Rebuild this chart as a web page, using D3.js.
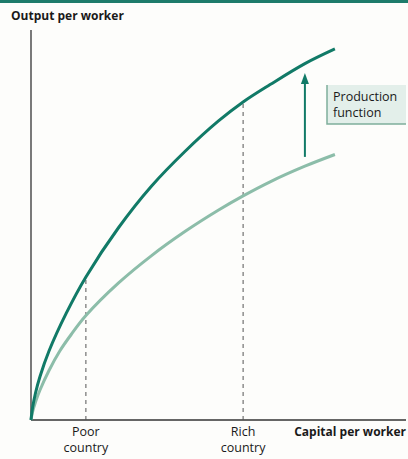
<!DOCTYPE html>
<html>
<head>
<meta charset="utf-8">
<script src="https://cdn.jsdelivr.net/npm/d3@7"></script>
<style>
  html, body { margin: 0; padding: 0; background: #fdfdfb; }
  svg { display: block; }
  text { font-family: "Open Sans", "Noto Sans", sans-serif; fill: #1a1a1a; }
</style>
</head>
<body>
<script>
// Capital per worker (x) and output per worker (y)
const highCapital = [0, 0.5, 1.5, 3, 6, 11.8, 18.3, 29.1, 40.2, 51.3, 62.4, 70.7, 79.7, 91.3, 101.3];
const highOutput  = [0, 4, 9, 14.5, 23, 35.7, 47.7, 64, 78, 89.5, 99.6, 106, 111.8, 118.8, 123.7];
const lowCapital  = [0, 0.5, 1.5, 3, 6, 9.6, 13.4, 18.3, 29.1, 40.2, 51.3, 62.4, 70.7, 79.7, 91.3, 101.3];
const lowOutput   = [0, 2.6, 6, 10, 16.5, 23, 28.5, 34.8, 45.6, 54.8, 62.8, 69.9, 74.7, 79.4, 84.6, 88.5];
const countryLabels = [["Poor", "country"], ["Rich", "country"]];
const countryCapital = [18.3, 70.7];
const countryOutput = [47.7, 106];
const shiftCapital = 91.3;
const shiftFrom = 87.7;
const shiftTo = 115.7;
const xTitle = "Capital per worker";
const yTitle = "Output per worker";
const boxLines = ["Production", "function"];

const W = 408, H = 459;
const dark = "#117a67", light = "#8cbda9";

const svg = d3.select("body").append("svg").attr("width", W).attr("height", H);
svg.append("rect").attr("width", W).attr("height", H).attr("fill", "#fdfdfb");
svg.append("rect").attr("x", 0).attr("y", 0).attr("width", W).attr("height", 3).attr("fill", "#1d7b6b");

const x = d3.scaleLinear().domain([0, 125]).range([31, 406]);
const y = d3.scaleLinear().domain([0, 130]).range([420, 30]);

// axes
svg.append("line").attr("x1", x(0)).attr("x2", x(0)).attr("y1", y(130)).attr("y2", y(0))
  .attr("stroke", "#333").attr("stroke-width", 1.3);
svg.append("line").attr("x1", x(0)).attr("x2", x(125)).attr("y1", y(0)).attr("y2", y(0))
  .attr("stroke", "#333").attr("stroke-width", 1.3);

// dashed guides
countryCapital.forEach((c, i) => {
  svg.append("line").attr("x1", x(c)).attr("x2", x(c)).attr("y1", y(0)).attr("y2", y(countryOutput[i]))
    .attr("stroke", "#555").attr("stroke-width", 1).attr("stroke-dasharray", "4,4");
});

const line = d3.line().x(d => x(d[0])).y(d => y(d[1])).curve(d3.curveCatmullRom.alpha(0.5));
svg.append("path").datum(lowCapital.map((c, i) => [c, lowOutput[i]]))
  .attr("d", line).attr("fill", "none").attr("stroke", light).attr("stroke-width", 3);
svg.append("path").datum(highCapital.map((c, i) => [c, highOutput[i]]))
  .attr("d", line).attr("fill", "none").attr("stroke", dark).attr("stroke-width", 3);

// shift arrow
svg.append("line").attr("x1", x(shiftCapital)).attr("x2", x(shiftCapital))
  .attr("y1", y(shiftFrom)).attr("y2", y(shiftTo) + 8)
  .attr("stroke", dark).attr("stroke-width", 2);
svg.append("path")
  .attr("d", `M${x(shiftCapital) - 4},${y(shiftTo) + 11} L${x(shiftCapital)},${y(shiftTo)} L${x(shiftCapital) + 4},${y(shiftTo) + 11} Z`)
  .attr("fill", dark);

// label box
const bx = 327, by = 85, bw = 79, bh = 39;
svg.append("rect").attr("x", bx).attr("y", by).attr("width", bw).attr("height", bh).attr("fill", "#e3efea");
svg.append("path").attr("d", `M${bx},${by} V${by + bh} H${bx + bw}`)
  .attr("fill", "none").attr("stroke", "#7fae9c").attr("stroke-width", 1.5);
boxLines.forEach((t, i) => {
  svg.append("text").attr("x", bx + 6).attr("y", by + 16 + i * 16).attr("font-size", 12.5).text(t);
});

// titles
svg.append("text").attr("x", 11).attr("y", 20).attr("font-size", 12).attr("font-weight", "bold").text(yTitle);
svg.append("text").attr("x", 406).attr("y", 436).attr("text-anchor", "end").attr("font-size", 12)
  .attr("font-weight", "bold").text(xTitle);

countryCapital.forEach((c, i) => {
  countryLabels[i].forEach((t, j) => {
    svg.append("text").attr("x", x(c)).attr("y", 436 + j * 16).attr("text-anchor", "middle")
      .attr("font-size", 12.5).text(t);
  });
});
</script>
</body>
</html>
